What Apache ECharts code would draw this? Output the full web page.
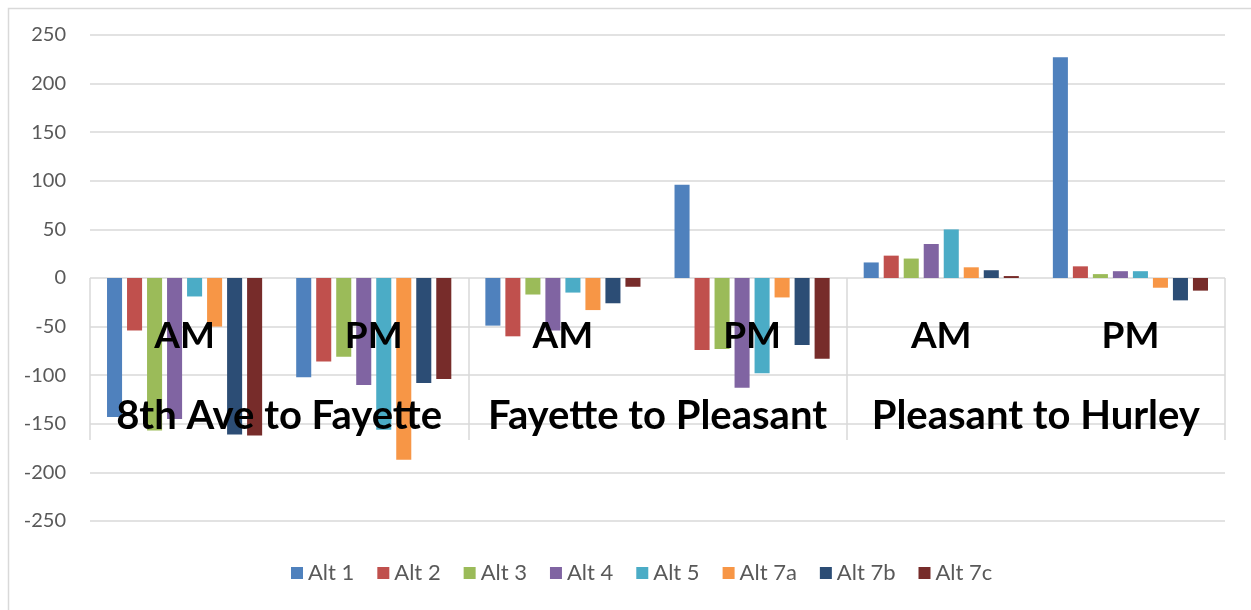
<!DOCTYPE html>
<html>
<head>
<meta charset="utf-8">
<title>Alternatives by segment</title>
<script src="https://cdn.jsdelivr.net/npm/echarts@6/dist/echarts.min.js"></script>
<style>
  html, body { margin: 0; padding: 0; background: #fff; }
  #chart { width: 1251px; height: 610px; }
</style>
</head>
<body>
<div id="chart"></div>
<script>
// Peak periods (inner category level) and road segments (outer level)
const periods = ['AM', 'PM', 'AM', 'PM', 'AM', 'PM'];
const segments = ['8th Ave to Fayette', 'Fayette to Pleasant', 'Pleasant to Hurley'];

// One value per period, in the order of `periods`
const alt1  = [-143, -102, -49,   96, 16, 227];
const alt2  = [ -54,  -86, -60,  -74, 23,  12];
const alt3  = [-157,  -81, -17,  -73, 20,   4];
const alt4  = [-145, -110, -54, -113, 35,   7];
const alt5  = [ -19, -156, -15,  -98, 50,   7];
const alt7a = [ -50, -187, -33,  -20, 11, -10];
const alt7b = [-161, -108, -26,  -69,  8, -23];
const alt7c = [-162, -104,  -9,  -83,  2, -13];

const seriesNames = ['Alt 1', 'Alt 2', 'Alt 3', 'Alt 4', 'Alt 5', 'Alt 7a', 'Alt 7b', 'Alt 7c'];
const seriesValues = [alt1, alt2, alt3, alt4, alt5, alt7a, alt7b, alt7c];
const colors = ['#4F81BD', '#C0504D', '#9BBB59', '#8064A2', '#4BACC6', '#F79646', '#2C4D75', '#772C2A'];

const FONT = 'Lato, "Open Sans", sans-serif';
const GRID_LINE = '#D9D9D9';

// Plot area: value axis spans -250..250, so the zero line sits midway
const PLOT = { left: 90, right: 26, top: 35, bottom: 89 };
const zeroFromBottom = 610 - (PLOT.top + (610 - PLOT.top - PLOT.bottom) / 2);

const chart = echarts.init(document.getElementById('chart'), null, { renderer: 'canvas' });

chart.setOption({
  animation: false,
  color: colors,
  textStyle: { fontFamily: FONT },
  grid: [
    // bars and value axis
    { left: PLOT.left, right: PLOT.right, top: PLOT.top, bottom: PLOT.bottom,
      containLabel: false, outerBoundsMode: 'none' },
    // two-level category labels hanging below the zero line
    { left: PLOT.left, right: PLOT.right, top: PLOT.top, bottom: zeroFromBottom,
      containLabel: false, outerBoundsMode: 'none' }
  ],
  graphic: [{
    type: 'rect',
    left: 6, top: 6,
    shape: { x: 0, y: 0, width: 1300, height: 700 },
    style: { fill: 'none', stroke: GRID_LINE, lineWidth: 1.5 },
    silent: true,
    z: -1
  }],
  legend: {
    bottom: 21,
    left: 286,
    icon: 'rect',
    itemWidth: 12,
    itemHeight: 12,
    itemGap: 23,
    textStyle: { color: '#595959', fontSize: 22, fontFamily: FONT },
    data: seriesNames
  },
  xAxis: [
    {
      gridIndex: 0,
      type: 'category',
      data: periods,
      axisLine: { show: false },
      axisTick: { show: false },
      axisLabel: { show: false }
    },
    {
      gridIndex: 1,
      type: 'category',
      data: periods,
      position: 'bottom',
      z: 10,
      axisLine: { show: false, onZero: false },
      axisTick: { show: false },
      axisLabel: {
        interval: 0,
        margin: 40,
        color: '#000',
        fontSize: 37,
        fontWeight: 'bold',
        fontFamily: FONT
      }
    },
    {
      gridIndex: 1,
      type: 'category',
      data: segments,
      position: 'bottom',
      z: 10,
      axisLine: { show: false, onZero: false },
      axisTick: {
        show: true,
        interval: 0,
        length: 162,
        lineStyle: { color: GRID_LINE, width: 1.5 }
      },
      axisLabel: {
        interval: 0,
        margin: 118,
        color: '#000',
        fontSize: 40,
        fontWeight: 'bold',
        fontFamily: FONT
      }
    }
  ],
  yAxis: [
    {
      gridIndex: 0,
      type: 'value',
      min: -250,
      max: 250,
      interval: 50,
      axisLine: { show: false },
      axisTick: { show: false },
      axisLabel: { color: '#595959', fontSize: 20, fontFamily: FONT, margin: 24 },
      splitLine: { lineStyle: { color: GRID_LINE, width: 1.5 } }
    },
    {
      gridIndex: 1,
      type: 'value',
      show: false,
      min: 0,
      max: 1
    }
  ],
  series: seriesNames.map((name, i) => ({
    name: name,
    type: 'bar',
    xAxisIndex: 0,
    yAxisIndex: 0,
    data: seriesValues[i],
    barGap: '33%',
    barCategoryGap: '18%',
    itemStyle: { color: colors[i] }
  }))
});
</script>
</body>
</html>
